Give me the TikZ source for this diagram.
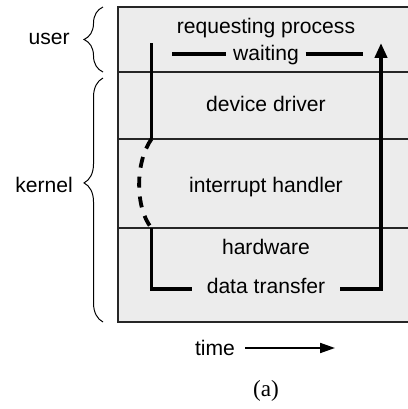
\documentclass[tikz,border=0pt]{standalone}
\usepackage{fontspec}
\setmainfont{Liberation Sans}
\newfontfamily\capfont{Liberation Serif}
\usetikzlibrary{arrows.meta, decorations.pathreplacing}
\definecolor{layerfill}{RGB}{236,236,236}

\begin{document}
\begin{tikzpicture}[x=0.025cm, y=-0.025cm]
		\tikzstyle{Layer} = [draw=black!85, line width=0.8pt, fill=layerfill]
		\tikzstyle{Label} = [font=\fontsize{15}{18}\selectfont, anchor=base, inner sep=0pt]
		\tikzstyle{thread} = [line width=2.7pt, line cap=butt]
		\tikzstyle{Brace} = [decorate, decoration={brace, amplitude=13.5pt}, line width=0.7pt]
		\tikzstyle{arrow} = [-{Triangle[length=10.5pt, width=8.5pt]}]
		\useasboundingbox (0,0) rectangle (408,409);
		
		% layers
		\draw [Layer] (118, 7) rectangle (412, 72);
		\draw [Layer] (118, 72) rectangle (412, 139);
		\draw [Layer] (118, 139) rectangle (412, 228);
		\draw [Layer] (118, 228) rectangle (412, 322);
		
		\node (rp) [Label] at (266,33) {requesting process};
		\node (wt) [Label, inner xsep=4.6pt] at (266,60) {waiting};
		\node (dd) [Label] at (266,111) {device driver};
		\node (ih) [Label] at (266,192) {interrupt handler};
		\node (hw) [Label] at (266,254) {hardware};
		\node (dt) [Label, inner xsep=10.6pt] at (266,293) {data transfer};
		
		% the thread of control
		\coordinate (start) at (151.5,43);
		\coordinate (dtop) at (151.5,139);
		\coordinate (dbot) at (151.5,228);
		\coordinate (corner1) at (151.5,289);
		\coordinate (corner2) at (381,289);
		\coordinate (end) at (381,43);
		\coordinate (wl) at (172,54);
		\coordinate (wr) at (363,54);
		
		\draw [thread] (start) -- (dtop);
		\draw [thread, dash pattern=on 7.8pt off 6.4pt] (dtop) .. controls (135,162) and (135,208) .. (dbot);
		\draw [thread] (dbot) -- (corner1) -- (dt.west |- corner1);
		\draw [thread, arrow] (dt.east |- corner2) -- (corner2) -- (end);
		\draw [thread] (wl) -- (wt.west |- wl);
		\draw [thread] (wt.east |- wr) -- (wr);
		
		% user and kernel
		\draw [Brace] (103,72) -- (103,7);
		\draw [Brace, decoration={aspect=0.57}] (103,322) -- (103,78);
		\node (us) [Label, anchor=base east] at (70,44) {user};
		\node (kn) [Label, anchor=base east] at (73,192) {kernel};
		
		% time
		\node (tm) [Label, inner xsep=7pt] at (215,355) {time};
		\coordinate (tend) at (335,348);
		\draw [line width=1.4pt, -{Triangle[length=10.5pt, width=7pt]}] (tm.east |- tend) -- (tend);
		\node (cap) [Label, font=\capfont\fontsize{16.5}{19}\selectfont] at (266,396) {(a)};
\end{tikzpicture}
\end{document}
